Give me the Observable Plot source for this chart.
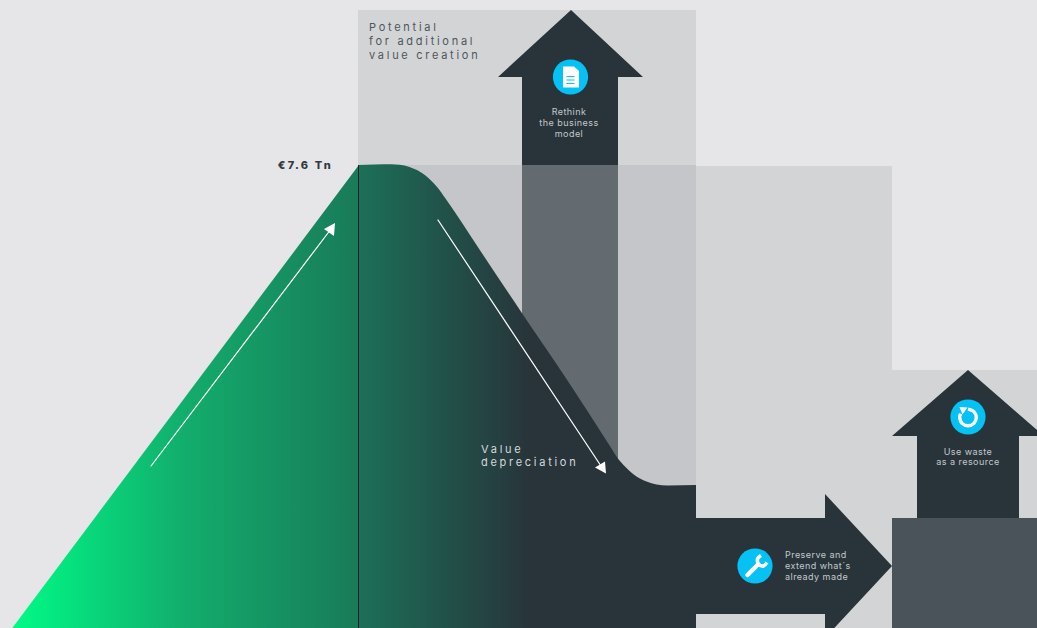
<!DOCTYPE html>
<html>
<head>
<meta charset="utf-8">
<script src="https://cdn.jsdelivr.net/npm/d3@7"></script>
<script src="https://cdn.jsdelivr.net/npm/@observablehq/plot@0.6"></script>
<style>
  html, body { margin: 0; padding: 0; background: #e6e6e8; overflow: hidden; }
  svg { display: block; }
  .wide { letter-spacing: 2.72px; }
  .small { letter-spacing: 0.45px; }
  .peak { letter-spacing: 2.2px; }
</style>
</head>
<body>
<div id="chart"></div>
<script>
// Chart space: x runs across the picture, y runs down it; the baseline is at 629 (just below the picture edge).
const baseline = 629;

// Rising value (green triangle)
const riseX = [11.5, 358.5, 358.5];
const riseY = [629, 165.5, 629];

// Value depreciation curve (top edge of the mountain, right of the peak)
const fallX = [358.5, 375, 392, 400, 410, 420, 430, 438, 446, 480, 522, 570, 612, 618, 626, 637, 647, 657, 668, 696.5];
const fallY = [165.5, 165, 164.8, 165.3, 167.5, 172, 179.5, 188, 199, 250, 313, 384, 449, 458.5, 467.5, 477, 482, 485, 486, 485.5];

// Background panels
const panelX1 = [358, 696, 892];
const panelX2 = [696, 892, 1037];
const panelY1 = [10, 166, 370];
const panelY2 = [628, 628, 628];
const overlayX = [358, 696];
const overlayY = [165, 628];
const baseBandX = [892, 1037];
const baseBandY = [518, 628];

// Block arrows
const rethinkX = [571, 643, 618, 618, 522, 522, 498];
const rethinkY = [10, 77, 77, 480, 480, 77, 77];
const preserveX = [696, 825, 825, 892, 825, 825, 696];
const preserveY = [518, 518, 494, 566, 638, 614, 614];
const wasteX = [968, 1044, 1019, 1019, 917, 917, 892];
const wasteY = [370, 436, 436, 518, 518, 436, 436];

// Thin white arrows
const upLineX = [151, 331];
const upLineY = [466, 229];
const upHeadX = [335, 324, 334];
const upHeadY = [223, 229, 236];
const downLineX = [438, 601];
const downLineY = [220, 466];
const downHeadX = [606, 595, 605];
const downHeadY = [473.5, 467.5, 461.5];

// Icon discs
const iconX = [570.5, 755, 968];
const iconY = [77, 566, 417];

// Document icon
const docX = [563, 574, 579, 579, 563];
const docY = [66.5, 66.5, 71, 87.5, 87.5];
const docLines = [
  {x1: 567, x2: 575, y: 76.5},
  {x1: 567, x2: 575, y: 80},
  {x1: 567, x2: 575, y: 83.5}
];

// Wrench icon
const handleX = [747.5, 758];
const handleY = [575, 564.5];
const jawX = [761, 757.7, 757.8, 760, 763.5, 767];
const jawY = [555.5, 558.5, 562.5, 565.3, 566, 562.5];

// Refresh icon
const ringX = [968, 973.9, 976.3, 973.9, 968, 962.1, 959.7, 960.6];
const ringY = [409.2, 411.6, 417.5, 423.4, 425.8, 423.4, 417.5, 413.6];
const ringHeadX = [959.5, 967.5, 962.5];
const ringHeadY = [407, 407.5, 414.5];

// Labels
const wideLabels = [
  {x: 369, y: 40.5, text: "Potential\nfor additional\nvalue creation", fill: "#4e565b"},
  {x: 481, y: 455, text: "Value\ndepreciation", fill: "#d5d8da"}
];
const centerLabels = [
  {x: 569, y: 122.5, text: "Rethink\nthe business\nmodel"},
  {x: 968, y: 456.5, text: "Use waste\nas a resource"}
];
const startLabels = [
  {x: 785, y: 565.5, text: "Preserve and\nextend what´s\nalready made"}
];
const peakLabel = [{x: 333, y: 165, text: "€7.6 Tn"}];

// Colours
const dark = "#28343a";
const panel = "#d3d4d6";
const cyan = "#05c1f4";
const riseStops = [[0, "#00fb87"], [0.5, "#12ad6c"], [1, "#197a59"]];
const fallStops = [[0, "#1c7058"], [0.5, "#21524a"], [1, "#28343a"]];
const riseRange = [12, 358];
const fallRange = [358, 530];

const nudge = {dx: -0.5, dy: -0.5};
const shape = (xs, ys, fill, extra = {}) =>
  Plot.line(xs.map((x, i) => ({x, y: ys[i]})), {x: "x", y: "y", fill, stroke: "none", ...nudge, ...extra});
const stroke = (xs, ys, color, width, extra = {}) =>
  Plot.line(xs.map((x, i) => ({x, y: ys[i]})), {x: "x", y: "y", stroke: color, strokeWidth: width, ...nudge, ...extra});
const box = (x1, x2, y1, y2, fill, opacity = 1) =>
  Plot.rect([0], {x1: () => x1, x2: () => x2, y1: () => y1, y2: () => y2, fill, fillOpacity: opacity});

function gradient(id, stops, range) {
  return (index, {x}) => {
    const defs = d3.create("svg:defs");
    const g = defs.append("linearGradient")
      .attr("id", id)
      .attr("gradientUnits", "userSpaceOnUse")
      .attr("x1", x(range[0])).attr("x2", x(range[1]))
      .attr("y1", 0).attr("y2", 0);
    stops.forEach(([o, c]) => g.append("stop").attr("offset", o).attr("stop-color", c));
    return defs.node();
  };
}

const chart = Plot.plot({
  width: 1037,
  height: 628,
  margin: 0,
  style: {background: "#e6e6e8"},
  x: {axis: null, domain: [0, 1037], range: [0, 1037]},
  y: {axis: null, domain: [0, 628], range: [0, 628]},
  marks: [
    gradient("riseGrad", riseStops, riseRange),
    gradient("fallGrad", fallStops, fallRange),

    // Panels
    ...panelX1.map((x1, i) => box(x1, panelX2[i], panelY1[i], panelY2[i], panel)),

    // Rethink arrow sits under the translucent overlay
    shape(rethinkX, rethinkY, dark),
    box(overlayX[0], overlayX[1], overlayY[0], overlayY[1], "#b2b5b6", 0.43),

    // Preserve arrow and use-waste arrow
    shape(preserveX, preserveY, dark, {clip: true}),
    shape(wasteX, wasteY, dark, {clip: true}),
    box(baseBandX[0], baseBandX[1], baseBandY[0], baseBandY[1], "#4a5359"),

    // Mountain
    shape(riseX, riseY, "url(#riseGrad)"),
    Plot.areaY(fallX.map((x, i) => ({x, y: fallY[i]})), {
      x: "x", y1: () => baseline, y2: "y", fill: "url(#fallGrad)", curve: "monotone-x", ...nudge
    }),
    Plot.ruleX([358], {y1: 165, y2: baseline, stroke: "#1a2226", strokeWidth: 1}),

    // White arrows
    stroke(upLineX, upLineY, "#fff", 1.2),
    shape(upHeadX, upHeadY, "#fff"),
    stroke(downLineX, downLineY, "#fff", 1.2),
    shape(downHeadX, downHeadY, "#fff"),

    // Icon discs
    Plot.dot(iconX.map((x, i) => ({x, y: iconY[i]})), {x: "x", y: "y", r: 17.6, fill: cyan, stroke: "none", ...nudge}),

    // Document
    shape(docX, docY, "#fff"),
    Plot.ruleY(docLines, {x1: "x1", x2: "x2", y: "y", stroke: cyan, strokeWidth: 1, ...nudge}),

    // Wrench
    stroke(handleX, handleY, "#fff", 4.5, {strokeLinecap: "round"}),
    stroke(jawX, jawY, "#fff", 3.6, {curve: "catmull-rom", strokeLinecap: "butt"}),

    // Refresh
    stroke(ringX, ringY, "#fff", 3.4, {curve: "catmull-rom", strokeLinecap: "butt"}),
    shape(ringHeadX, ringHeadY, "#fff"),

    // Text
    Plot.text(wideLabels, {
      x: "x", y: "y", text: "text", fill: "fill", textAnchor: "start", lineHeight: 1.24,
      fontSize: 11, fontFamily: "Inter", className: "wide", ...nudge
    }),
    Plot.text(centerLabels, {
      x: "x", y: "y", text: "text", fill: "#c4c8ca", textAnchor: "middle", lineHeight: 1.2,
      fontSize: 9, fontFamily: "Inter", className: "small", ...nudge
    }),
    Plot.text(startLabels, {
      x: "x", y: "y", text: "text", fill: "#c4c8ca", textAnchor: "start", lineHeight: 1.2,
      fontSize: 9, fontFamily: "Inter", className: "small", ...nudge
    }),
    Plot.text(peakLabel, {
      x: "x", y: "y", text: "text", fill: "#33393d", textAnchor: "end",
      fontSize: 11, fontWeight: 800, fontFamily: "Inter", className: "peak", ...nudge
    })
  ]
});
document.getElementById("chart").append(chart);
</script>
</body>
</html>
